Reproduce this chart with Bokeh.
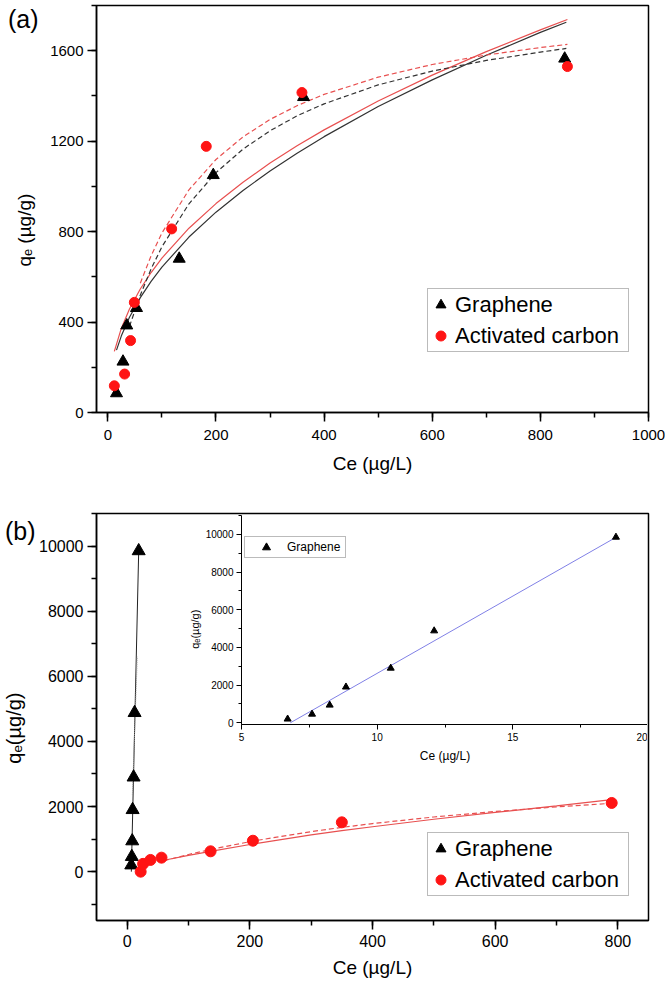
from bokeh.plotting import figure
from bokeh.models import Range1d, SingleIntervalTicker, Legend, LegendItem, Div
from bokeh.layouts import column
from bokeh.embed import file_html
from bokeh.resources import INLINE

FONT = "Liberation Sans"
NB = "\u00a0"

# ---------------- Panel (a) data ----------------
a_gr_ce = [16, 28, 35, 53, 132, 195, 362, 845]
a_gr_qe = [85, 225, 385, 462, 680, 1050, 1395, 1565]
a_ac_ce = [12, 31, 42, 49, 118, 182, 359, 850]
a_ac_qe = [118, 170, 318, 487, 812, 1177, 1415, 1530]

# fitted curves
a_gr_sol_ce = [16, 25, 40, 60, 80, 100, 150, 200, 250, 300, 350, 400, 500, 600, 700, 800, 848]
a_gr_sol_qe = [276, 339, 421, 508, 580, 643, 776, 886, 982, 1068, 1147, 1220, 1353, 1471, 1580, 1681, 1726]
a_ac_sol_ce = [12, 25, 40, 60, 80, 100, 150, 200, 250, 300, 350, 400, 500, 600, 700, 800, 850]
a_ac_sol_qe = [270, 373, 458, 546, 619, 683, 815, 924, 1018, 1103, 1180, 1250, 1378, 1492, 1596, 1692, 1738]
a_gr_dash_ce = [40, 60, 80, 100, 150, 200, 250, 300, 350, 400, 500, 600, 700, 800, 848]
a_gr_dash_qe = [381, 519, 635, 733, 923, 1061, 1165, 1246, 1312, 1365, 1449, 1510, 1557, 1594, 1610]
a_ac_dash_ce = [60, 80, 100, 150, 200, 250, 300, 350, 400, 500, 600, 700, 800, 850]
a_ac_dash_qe = [572, 693, 794, 985, 1119, 1219, 1296, 1357, 1407, 1483, 1539, 1581, 1614, 1628]

# ---------------- Panel (b) data ----------------
b_gr_ce = [6.7, 7.6, 8.25, 8.85, 10.5, 12.1, 18.8]
b_gr_qe = [200, 460, 940, 1900, 2900, 4880, 9850]
b_ac_ce = [22, 26, 38, 56, 136, 205, 350, 790]
b_ac_qe = [0, 240, 360, 430, 625, 950, 1515, 2110]

b_gr_fit_ce = [6.8, 18.75]
b_gr_fit_qe = [0, 9800]
b_gr_dot_ce = [8.5, 16.5]
b_gr_dot_qe = [2350, 6600]

b_ac_sol_ce = [60, 100, 136, 205, 300, 350, 400, 500, 600, 700, 790]
b_ac_sol_qe = [350, 500, 624, 850, 1130, 1260, 1380, 1610, 1820, 2020, 2210]
b_ac_dash_ce = [60, 100, 136, 205, 300, 350, 400, 500, 600, 700, 790]
b_ac_dash_qe = [335, 527, 682, 940, 1230, 1360, 1477, 1679, 1847, 1989, 2100]

RED = "#ff1414"
RED_LINE = "#e85050"
DARK = "#333333"
BLUE = "#8080e6"


def base_fig(xr, yr, fw, fh, ml, mr, mt, mb, transparent=False):
    p = figure(frame_width=fw, frame_height=fh,
               x_range=Range1d(*xr), y_range=Range1d(*yr),
               min_border_left=ml, min_border_right=mr,
               min_border_top=mt, min_border_bottom=mb,
               toolbar_location=None, output_backend="svg")
    p.grid.grid_line_color = None
    if transparent:
        p.outline_line_color = None
        p.background_fill_color = None
        p.border_fill_color = None
    else:
        p.outline_line_color = "black"
        p.outline_line_width = 1.5
        p.background_fill_color = "white"
        p.border_fill_color = "white"
    return p


def style_axis(ax, tick_size, lw=1.5, major_out=9, minor_out=5, standoff=5):
    ax.axis_line_color = "black"
    ax.axis_line_width = lw
    ax.major_tick_line_color = "black"
    ax.major_tick_line_width = lw
    ax.minor_tick_line_color = "black"
    ax.minor_tick_line_width = lw
    ax.major_tick_in = 0
    ax.major_tick_out = major_out
    ax.minor_tick_in = 0
    ax.minor_tick_out = minor_out
    ax.major_label_text_font = FONT
    ax.major_label_text_font_size = tick_size
    ax.major_label_text_color = "black"
    ax.major_label_standoff = standoff
    ax.axis_label_text_font = FONT
    ax.axis_label_text_font_style = "normal"
    ax.axis_label_text_color = "black"


def make_legend(items, loc, font_size, gw, gh, standoff, label_w):
    return Legend(items=items, location=loc, orientation="vertical",
                  padding=0, spacing=0, margin=0,
                  glyph_width=gw, glyph_height=gh,
                  label_standoff=standoff, label_width=label_w,
                  label_text_font=FONT, label_text_font_size=font_size,
                  label_text_color="black",
                  border_line_color="#777777", border_line_width=1.5,
                  background_fill_color="white", background_fill_alpha=1.0)


# ================= Panel (a) =================
pa = base_fig((-21, 1000), (0, 1800), 552, 407, 95, 18, 5, 78)
style_axis(pa.xaxis[0], "15px", standoff=8)
style_axis(pa.yaxis[0], "15px", standoff=4)
pa.xaxis[0].ticker = SingleIntervalTicker(interval=200, num_minor_ticks=2)
pa.yaxis[0].ticker = SingleIntervalTicker(interval=400, num_minor_ticks=2)
pa.xaxis[0].axis_label = "Ce (µg/L)"
pa.xaxis[0].axis_label_text_font_size = "19px"
pa.xaxis[0].axis_label_standoff = 10
pa.yaxis[0].axis_label = "qₑ (µg/g)" + NB * 8
pa.yaxis[0].axis_label_text_font_size = "19px"
pa.yaxis[0].axis_label_standoff = 12

pa.line(a_gr_sol_ce, a_gr_sol_qe, line_color=DARK, line_width=1.2)
pa.line(a_ac_sol_ce, a_ac_sol_qe, line_color=RED_LINE, line_width=1.2)
pa.line(a_gr_dash_ce, a_gr_dash_qe, line_color=DARK, line_width=1.2, line_dash="5 3")
pa.line(a_ac_dash_ce, a_ac_dash_qe, line_color=RED_LINE, line_width=1.2, line_dash="5 3")
ra_gr = pa.scatter(a_gr_ce, a_gr_qe, marker="triangle", size=12, color="black")
ra_ac = pa.scatter(a_ac_ce, a_ac_qe, marker="circle", size=10, color=RED)

pa.add_layout(make_legend([LegendItem(label="Graphene", renderers=[ra_gr]),
                           LegendItem(label="Activated carbon", renderers=[ra_ac])],
                          (331, 60), "22px", 25, 31, 2, 173))

# ================= Panel (b) =================
pb = base_fig((-50, 850), (-1500, 11000), 552, 407, 95, 18, 23, 62)
style_axis(pb.xaxis[0], "16px", standoff=5)
style_axis(pb.yaxis[0], "16px", standoff=4)
pb.xaxis[0].ticker = SingleIntervalTicker(interval=200, num_minor_ticks=2)
pb.yaxis[0].ticker = SingleIntervalTicker(interval=2000, num_minor_ticks=2)
pb.xaxis[0].axis_label = "Ce (µg/L)"
pb.xaxis[0].axis_label_text_font_size = "19px"
pb.xaxis[0].axis_label_standoff = 7
pb.yaxis[0].axis_label = "qₑ(µg/g)" + NB * 4
pb.yaxis[0].axis_label_text_font_size = "20px"
pb.yaxis[0].axis_label_standoff = 11

pb.line(b_gr_fit_ce, b_gr_fit_qe, line_color="#222222", line_width=1.0)
pb.line(b_gr_dot_ce, b_gr_dot_qe, line_color="#9a9a9a", line_width=1.0, line_dash="1 1")
pb.line(b_ac_sol_ce, b_ac_sol_qe, line_color=RED_LINE, line_width=1.2)
pb.line(b_ac_dash_ce, b_ac_dash_qe, line_color=RED_LINE, line_width=1.2, line_dash="5 3")
rb_gr = pb.scatter(b_gr_ce, b_gr_qe, marker="triangle", size=13, color="black")
rb_ac = pb.scatter(b_ac_ce, b_ac_qe, marker="circle", size=11, color=RED)

pb.add_layout(make_legend([LegendItem(label="Graphene", renderers=[rb_gr]),
                           LegendItem(label="Activated carbon", renderers=[rb_ac])],
                          (331, 24), "22px", 25, 31, 2, 173))

# ================= Inset =================
pin = base_fig((5, 20), (-90, 11000), 407, 209, 95, 0, 0, 46, transparent=True)
style_axis(pin.xaxis[0], "10px", lw=1.0, major_out=5, minor_out=3, standoff=3)
style_axis(pin.yaxis[0], "10px", lw=1.0, major_out=5, minor_out=3, standoff=3)
pin.xaxis[0].ticker = SingleIntervalTicker(interval=5, num_minor_ticks=2)
pin.yaxis[0].ticker = SingleIntervalTicker(interval=2000, num_minor_ticks=2)
pin.xaxis[0].axis_label = "Ce (µg/L)"
pin.xaxis[0].axis_label_text_font_size = "12px"
pin.xaxis[0].axis_label_standoff = 5
pin.yaxis[0].axis_label = "qₑ(µg/g)" + NB * 6
pin.yaxis[0].axis_label_text_font_size = "11px"
pin.yaxis[0].axis_label_standoff = 2

pin.line(b_gr_fit_ce, b_gr_fit_qe, line_color=BLUE, line_width=1.0)
rin_gr = pin.scatter(b_gr_ce, b_gr_qe, marker="triangle", size=7, color="black")
pin.add_layout(make_legend([LegendItem(label="Graphene", renderers=[rin_gr])],
                           (30, 166), "12px", 42, 20, 0, 58))
pin.styles = {"position": "absolute", "left": "145px", "top": "515px"}

# panel letters
lab_a = Div(text="(a)", width=40, height=30,
            styles={"position": "absolute", "left": "3px", "top": "2px",
                    "font-family": FONT, "font-size": "25px", "line-height": "1",
                    "color": "black"})
lab_b = Div(text="(b)", width=40, height=30,
            styles={"position": "absolute", "left": "0px", "top": "514px",
                    "font-family": FONT, "font-size": "25px", "line-height": "1",
                    "color": "black"})

layout = column(pa, pb, pin, lab_a, lab_b, styles={"position": "relative"})

open("out.html", "w").write(file_html(layout, INLINE))
